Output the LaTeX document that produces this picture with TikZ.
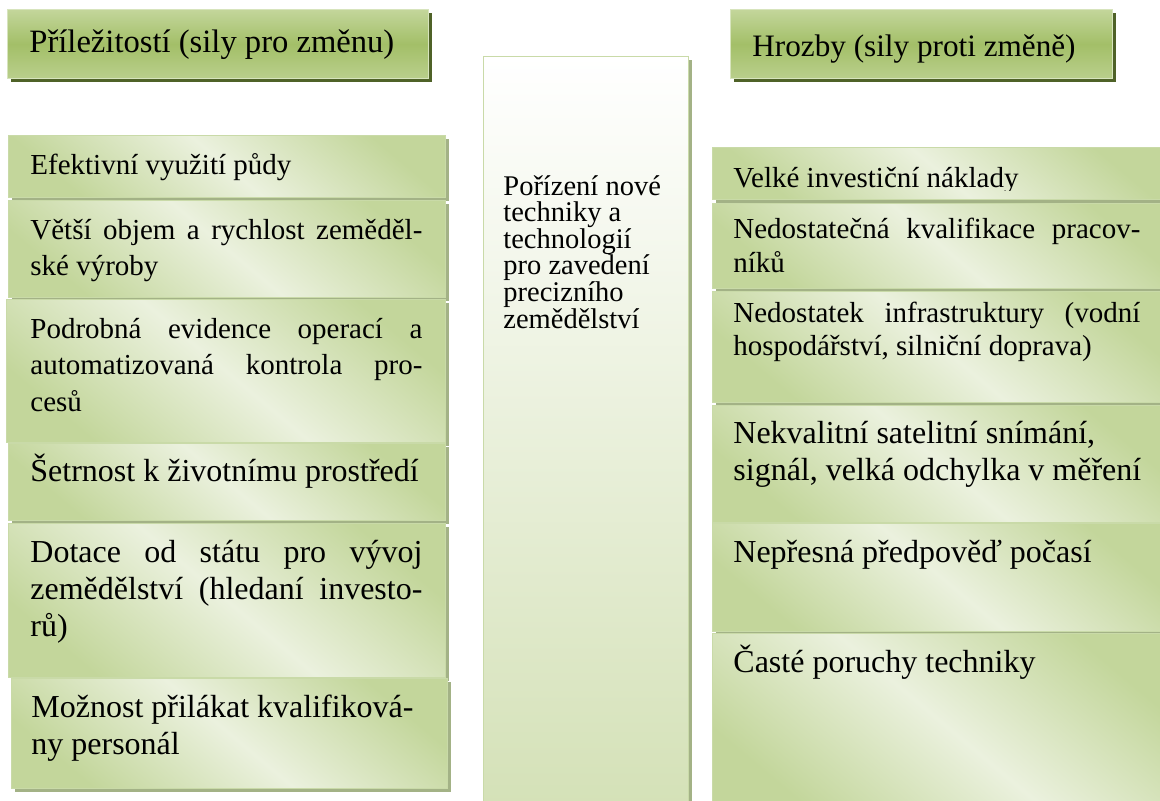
\documentclass[tikz,border=0pt]{standalone}
\usepackage{fontspec}
\setmainfont{Liberation Serif}
\usetikzlibrary{shadows}

\definecolor{headlight}{HTML}{C3D69B}
\definecolor{headmid}{HTML}{A3BF68}
\definecolor{headedge}{HTML}{D7E4BD}
\definecolor{headshadow}{HTML}{4F6228}
\definecolor{boxgreen}{HTML}{C3D69B}
\definecolor{boxlight}{HTML}{EBF1DE}
\definecolor{boxedge}{HTML}{C9DAA8}
\definecolor{boxshadow}{HTML}{A3B286}
\definecolor{midbottom}{HTML}{D4E1B7}

\newcommand{\justL}[1]{\makebox[196pt][s]{#1}}
\newcommand{\justR}[1]{\makebox[203.5pt][s]{#1}}

\tikzset{
  head/.style={draw=headedge, line width=0.6pt, top color=headlight,
    bottom color=headlight!70!headmid, middle color=headmid, anchor=north west, inner sep=0,
    drop shadow={shadow xshift=1.6pt, shadow yshift=-1.6pt, fill=headshadow, opacity=1}},
  item/.style={draw=boxedge, line width=0.5pt, top color=boxgreen, bottom color=boxgreen,
    middle color=boxlight, shading angle=-40, anchor=north west, inner sep=0,
    drop shadow={shadow xshift=1.5pt, shadow yshift=-1.5pt, fill=boxshadow, opacity=1}},
  centre/.style={draw=boxedge, line width=0.5pt, top color=white, bottom color=midbottom,
    anchor=north west, inner sep=0,
    drop shadow={shadow xshift=1.5pt, shadow yshift=-1.5pt, fill=boxshadow, opacity=1}},
  headtxt/.style={anchor=base west, inner sep=0, font=\fontsize{16}{19}\selectfont},
  smalltxt/.style={anchor=base west, inner sep=0, align=left, font=\fontsize{14.5}{18.4}\selectfont},
  bigtxt/.style={anchor=base west, inner sep=0, align=left, font=\fontsize{16}{18.6}\selectfont}
}

\begin{document}
\begin{tikzpicture}[x=0.5pt, y=-0.5pt]
	\clip (0,0) rectangle (1160,800);
	% headings
	\node[head, minimum width=210.5pt, minimum height=34.5pt] (opphead) at (7,9) {};
	\node[headtxt, font=\fontsize{16.3}{19}\selectfont] (opptitle) at (29,52) {Příležitostí (sily pro změnu)};
	\node[head, minimum width=191pt, minimum height=34.5pt] (thrhead) at (730,9) {};
	\node[headtxt, font=\fontsize{15.6}{19}\selectfont] (thrtitle) at (752,56) {Hrozby (sily proti změně)};

	% middle column (base = last line)
	\node[centre, minimum width=102.5pt, minimum height=377pt] (core) at (483,56) {};
	\node[anchor=base west, inner sep=0, align=left, font=\fontsize{14.25}{13.3}\selectfont]
		(coretxt) at (503,328) {Pořízení nové\\techniky a\\technologií\\pro zavedení\\precizního\\zemědělství};

	% opportunities
	\node[item, minimum width=218.5pt, minimum height=31pt] (opp1) at (8,135) {};
	\node[smalltxt] (opp1txt) at ([xshift=11pt, yshift=-19.5pt]opp1.north west) {Efektivní využití půdy};
	\node[item, minimum width=218.5pt, minimum height=48.5pt] (opp2) at (8,200) {};
	\node[smalltxt] (opp2txt) at ([xshift=11pt, yshift=-37.9pt]opp2.north west)
		{\justL{Větší objem a rychlost zeměděl-}\\ské výroby};
	\node[item, minimum width=219.5pt, minimum height=71.5pt] (opp3) at (6,299) {};
	\node[smalltxt] (opp3txt) at ([xshift=12pt, yshift=-56.3pt]opp3.north west)
		{\justL{Podrobná evidence operací a}\\\justL{automatizovaná kontrola pro-}\\cesů};
	\node[item, minimum width=218.5pt, minimum height=38.5pt] (opp4) at (8,443) {};
	\node[bigtxt] (opp4txt) at ([xshift=11pt, yshift=-19pt]opp4.north west) {Šetrnost k životnímu prostředí};
	\node[item, minimum width=218.5pt, minimum height=77pt] (opp5) at (8,523) {};
	\node[bigtxt] (opp5txt) at ([xshift=11pt, yshift=-56.7pt]opp5.north west)
		{\justL{Dotace od státu pro vývoj}\\\justL{zemědělství (hledaní investo-}\\rů)};
	\node[item, minimum width=218pt, minimum height=55pt] (opp6) at (11,678) {};
	\node[bigtxt] (opp6txt) at ([xshift=10pt, yshift=-38.1pt]opp6.north west)
		{Možnost přilákat kvalifiková-\\ny personál};

	% threats
	\node[item, minimum width=229pt, minimum height=26pt] (thr1) at (712,147) {};
	\begin{scope}
		\clip (700,140) rectangle (1160,190);
		\node[smalltxt] (thr1txt) at ([xshift=10.5pt, yshift=-20pt]thr1.north west) {Velké investiční náklady};
	\end{scope}
	\node[item, minimum width=229pt, minimum height=42.5pt] (thr2) at (712,203) {};
	\node[smalltxt, font=\fontsize{14.5}{17}\selectfont] (thr2txt) at ([xshift=10.5pt, yshift=-34.5pt]thr2.north west)
		{\justR{Nedostatečná kvalifikace pracov-}\\níků};
	\node[item, minimum width=229pt, minimum height=55.5pt] (thr3) at (712,291) {};
	\node[smalltxt, font=\fontsize{14.5}{16.6}\selectfont] (thr3txt) at ([xshift=10.5pt, yshift=-32.1pt]thr3.north west)
		{\justR{Nedostatek infrastruktury (vodní}\\hospodářství, silniční doprava)};
	\node[item, minimum width=229pt, minimum height=58.5pt] (thr4) at (712,405) {};
	\node[bigtxt] (thr4txt) at ([xshift=10.5pt, yshift=-37.6pt]thr4.north west)
		{Nekvalitní satelitní snímání,\\signál, velká odchylka v měření};
	\node[item, minimum width=229pt, minimum height=54pt] (thr5) at (712,523) {};
	\node[bigtxt] (thr5txt) at ([xshift=10.5pt, yshift=-19.5pt]thr5.north west) {Nepřesná předpověď počasí};
	\node[item, minimum width=229pt, minimum height=88.5pt] (thr6) at (712,633) {};
	\node[bigtxt] (thr6txt) at ([xshift=10.5pt, yshift=-19.5pt]thr6.north west) {Časté poruchy techniky};
\end{tikzpicture}
\end{document}
